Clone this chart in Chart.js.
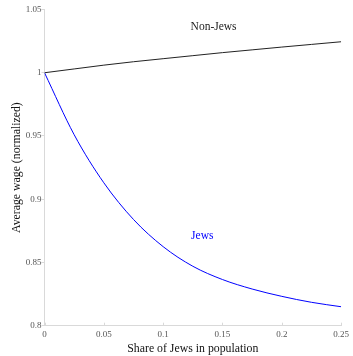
<!DOCTYPE html>
<html>
<head>
<meta charset="utf-8">
<script src="https://cdn.jsdelivr.net/npm/chart.js@4"></script>
<style>
html,body{margin:0;padding:0;background:#fff;}
#wrap{width:353px;height:356px;}
</style>
</head>
<body>
<div id="wrap"><canvas id="c" width="353" height="356"></canvas></div>
<script>
// ---- data ----
const shareJews = [0, 0.025, 0.05, 0.075, 0.1, 0.125, 0.15, 0.175, 0.2, 0.225, 0.25];
const wageNonJews = [1.0000, 1.0030, 1.0060, 1.0087, 1.0111, 1.0135, 1.0159, 1.0181, 1.0203, 1.0224, 1.0245];
const wageJews = [1.000, 0.951, 0.913, 0.884, 0.8625, 0.847, 0.8365, 0.829, 0.8232, 0.8185, 0.8150];
const xTickValues = [0, 0.05, 0.1, 0.15, 0.2, 0.25];
const xTickLabels = ["0", "0.05", "0.1", "0.15", "0.2", "0.25"];
const yTickValues = [0.8, 0.85, 0.9, 0.95, 1, 1.05];
const yTickLabels = ["0.8", "0.85", "0.9", "0.95", "1", "1.05"];
const seriesNames = ["Non-Jews", "Jews"];
const labelX = [0.1425, 0.133];
const labelY = [1.036, 0.871];
const xTitle = "Share of Jews in population";
const yTitle = "Average wage (normalized)";

// ---- styles ----
const FONT = "'Liberation Serif', 'DejaVu Serif', serif";
const seriesColors = ["#222222", "#0000ff"];
const axisColor = "#d9d9d9";

const toPts = (xs, ys) => xs.map((x, i) => ({x: x, y: ys[i]}));

const annotPlugin = {
  id: 'annot',
  afterDatasetsDraw(chart) {
    const {ctx, scales: {x, y}} = chart;
    ctx.save();
    ctx.strokeStyle = axisColor;
    ctx.lineWidth = 1;
    const b = chart.chartArea.bottom;
    xTickValues.forEach(v => {
      const px = Math.round(x.getPixelForValue(v)) + 0.5;
      ctx.beginPath();
      ctx.moveTo(px, b);
      ctx.lineTo(px, b - 3);
      ctx.stroke();
    });
    ctx.font = "11.5px " + FONT;
    ctx.textAlign = 'center';
    ctx.textBaseline = 'middle';
    seriesNames.forEach((n, i) => {
      ctx.fillStyle = seriesColors[i];
      ctx.fillText(n, x.getPixelForValue(labelX[i]), y.getPixelForValue(labelY[i]));
    });
    ctx.restore();
  }
};

new Chart(document.getElementById('c'), {
  type: 'line',
  data: {
    datasets: [
      {label: seriesNames[0], data: toPts(shareJews, wageNonJews), borderColor: seriesColors[0],
       borderWidth: 1, pointRadius: 0, cubicInterpolationMode: 'monotone', fill: false},
      {label: seriesNames[1], data: toPts(shareJews, wageJews), borderColor: seriesColors[1],
       borderWidth: 1, pointRadius: 0, cubicInterpolationMode: 'monotone', fill: false}
    ]
  },
  options: {
    responsive: false,
    devicePixelRatio: 1,
    animation: false,
    layout: {padding: {top: 9.5, right: 8, left: 0, bottom: 0}},
    plugins: {legend: {display: false}, tooltip: {enabled: false}},
    scales: {
      x: {
        type: 'linear', min: 0, max: 0.25,
        afterBuildTicks: s => { s.ticks = xTickValues.map(v => ({value: v})); },
        afterFit: s => { s.height = 30.3; },
        grid: {display: true, drawOnChartArea: false, drawTicks: false, color: axisColor},
        border: {display: true, color: axisColor, width: 1},
        ticks: {
          color: '#555', padding: 4, maxRotation: 0, autoSkip: false,
          font: {family: FONT, size: 9},
          callback: (v, i) => xTickLabels[i]
        },
        title: {display: true, text: xTitle, color: '#111', font: {family: FONT, size: 11.8}, padding: {top: 0, bottom: 0}}
      },
      y: {
        type: 'linear', min: 0.8, max: 1.05,
        afterBuildTicks: s => { s.ticks = yTickValues.map(v => ({value: v})); },
        afterFit: s => { s.width = 44.5; },
        grid: {display: true, drawOnChartArea: false, drawTicks: true, tickLength: 3, color: axisColor},
        border: {display: true, color: axisColor, width: 1},
        ticks: {
          color: '#555', padding: 0, autoSkip: false,
          font: {family: FONT, size: 9},
          callback: (v, i) => yTickLabels[i]
        },
        title: {display: true, text: yTitle, color: '#111', font: {family: FONT, size: 11.8}, padding: {top: 10, bottom: 0}}
      }
    }
  },
  plugins: [annotPlugin]
});
</script>
</body>
</html>
